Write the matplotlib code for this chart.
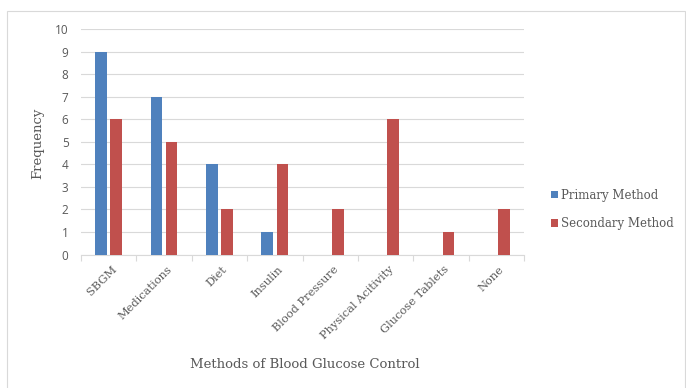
import matplotlib
matplotlib.use("Agg")
import matplotlib.pyplot as plt
import numpy as np
from matplotlib.patches import Rectangle

categories = ["SBGM", "Medications", "Diet", "Insulin", "Blood Pressure",
              "Physical Acitivity", "Glucose Tablets", "None"]
primary = [9, 7, 4, 1, 0, 0, 0, 0]
secondary = [6, 5, 2, 4, 2, 6, 1, 2]
series_names = ["Primary Method", "Secondary Method"]
y_ticks = list(range(0, 11))

BLUE = "#4F81BD"
RED = "#C0504D"
GRID = "#D9D9D9"
TXT = "#595959"
SERIF = ["DejaVu Serif"]
SANS = ["Open Sans", "DejaVu Sans"]

W, H = 686, 388
fig = plt.figure(figsize=(W / 100, H / 100), dpi=100)
fig.patch.set_facecolor("white")

# chart border (bottom edge runs past the lower margin)
fig.add_artist(Rectangle((7 / W, -0.05), 678 / W, 1.05 - 11 / H,
                         transform=fig.transFigure, fill=False,
                         edgecolor="#D9D9D9", linewidth=0.8))

left, right, top, bottom = 81, 524, 29, 254.5
ax = fig.add_axes([left / W, 1 - bottom / H, (right - left) / W, (bottom - top) / H])

x = np.arange(len(categories))
bw = 0.21
off = 0.137
ax.bar(x - off, primary, bw, color=BLUE, label=series_names[0], zorder=3)
ax.bar(x + off, secondary, bw, color=RED, label=series_names[1], zorder=3)

ax.set_xlim(-0.5, len(categories) - 0.5)
ax.set_ylim(0, 10)
ax.set_yticks(y_ticks)
ax.set_yticklabels([str(v) for v in y_ticks], family=SANS, fontsize=8.5, color=TXT)
ax.tick_params(axis="y", length=0, pad=9)
ax.grid(axis="y", color=GRID, linewidth=0.8, zorder=0)

for s in ["top", "right", "left"]:
    ax.spines[s].set_visible(False)
ax.spines["bottom"].set_color(GRID)
ax.spines["bottom"].set_linewidth(0.8)

# category labels between boundary tick marks
ax.set_xticks(np.arange(len(categories) + 1) - 0.5)
ax.set_xticklabels([])
ax.tick_params(axis="x", length=4, color=GRID, width=0.8)
for i, c in enumerate(categories):
    ax.annotate(c, xy=(i, 0), xycoords=("data", "axes fraction"),
                xytext=(2, -7), textcoords="offset points",
                rotation=45, ha="right", va="top", rotation_mode="anchor",
                fontsize=8.2, color=TXT, family=SERIF)

fig.text(305 / W, 1 - 365 / H, "Methods of Blood Glucose Control",
         ha="center", va="center", fontsize=9.5, color=TXT, family=SERIF)
fig.text(38 / W, 1 - 143 / H, "Frequency", rotation=90,
         ha="center", va="center", fontsize=9.5, color=TXT, family=SERIF)

leg = fig.legend(loc="upper left", bbox_to_anchor=(540 / W, 1 - 178 / H),
                 frameon=False, prop={"family": SERIF, "size": 8.5},
                 handlelength=0.6, handleheight=0.6, handletextpad=0.3,
                 labelspacing=1.3, labelcolor=TXT)

fig.savefig("out.png", dpi=100, facecolor="white")
